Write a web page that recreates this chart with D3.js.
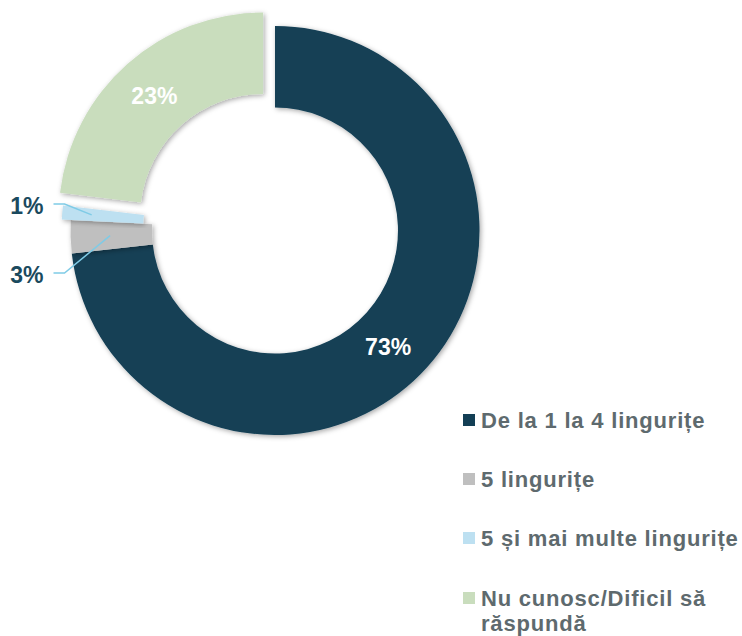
<!DOCTYPE html>
<html><head><meta charset="utf-8">
<script src="https://cdn.jsdelivr.net/npm/d3@7"></script>
<style>
html,body{margin:0;padding:0;background:#fff;}
svg{display:block;font-family:"Liberation Sans",Arial,sans-serif;}
</style></head>
<body>
<svg id="c" width="742" height="636"></svg>
<script>
const categories = ["De la 1 la 4 lingurițe", "5 lingurițe", "5 și mai multe lingurițe", "Nu cunosc/Dificil să răspundă"];
const values = [73.2, 2.6, 1.1, 23.1];
const colors = ["#133F55", "#BFBFBF", "#BDE0F1", "#C9DDBD"];
const explode = [0, 0, 9, 18];
const legendLines = [["De la 1 la 4 lingurițe"], ["5 lingurițe"], ["5 și mai multe lingurițe"], ["Nu cunosc/Dificil să", "răspundă"]];

const svg = d3.select("#c");
const cx = 275, cy = 230.5, rO = 204.5, rI = 123;

const defs = svg.append("defs");
const f = defs.append("filter").attr("id","sh").attr("x","-20%").attr("y","-20%").attr("width","140%").attr("height","140%");
f.append("feDropShadow").attr("dx",1.5).attr("dy",1.5).attr("stdDeviation",2.5).attr("flood-color","#000").attr("flood-opacity",0.35);

const pie = d3.pie().sort(null).value(d => d);
const arcs = pie(values);
const arc = d3.arc().innerRadius(rI).outerRadius(rO);
const g = svg.append("g").attr("transform", `translate(${cx},${cy})`);

function off(d, i) {
  const a = (d.startAngle + d.endAngle) / 2;
  return [Math.sin(a) * explode[i], -Math.cos(a) * explode[i]];
}

g.selectAll("path.s").data(arcs).join("path")
  .attr("class","s")
  .attr("d", arc)
  .attr("fill", (d,i) => colors[i])
  .attr("filter","url(#sh)")
  .attr("transform", (d,i) => { const o = off(d,i); return `translate(${o[0]},${o[1]})`; });

const fmt = v => Math.round(v) + "%";

// inside labels for big slices
arcs.forEach((d, i) => {
  if (values[i] < 10) return;
  const c = arc.centroid(d), o = off(d, i);
  const adj = i === 0 ? [-9, 7] : [0, 1];
  g.append("text")
    .attr("x", c[0] + o[0] + adj[0]).attr("y", c[1] + o[1] + adj[1])
    .attr("text-anchor","middle").attr("dominant-baseline","central")
    .attr("font-size", 23).attr("font-weight","bold").attr("fill","#fff")
    .text(fmt(values[i]));
});

// outside labels with leader lines for small slices
const outLab = {1: {y: 42.5, r: 165}, 2: {y: -26.5, r: 175}};
arcs.forEach((d, i) => {
  if (values[i] >= 10) return;
  const a = (d.startAngle + d.endAngle) / 2, o = off(d, i);
  const L = outLab[i];
  const px = Math.sin(a) * L.r + o[0], py = -Math.cos(a) * L.r + o[1];
  const ex = -rO - 6, lx = -rO - 17;
  g.append("polyline")
    .attr("points", [[px, py], [ex, L.y], [lx, L.y]].map(p => p.join(",")).join(" "))
    .attr("fill","none").attr("stroke","#7FCBE6").attr("stroke-width",1.5);
  g.append("text")
    .attr("x", lx - 10).attr("y", L.y + 2)
    .attr("text-anchor","end").attr("dominant-baseline","central")
    .attr("font-size", 23).attr("font-weight","bold").attr("fill","#1B4A5E")
    .text(fmt(values[i]));
});

// legend
const leg = svg.append("g").attr("transform","translate(463,0)");
const rowY = [420, 479, 538, 598];
categories.forEach((c, i) => {
  leg.append("rect").attr("x",0).attr("y",rowY[i]-6).attr("width",12).attr("height",12).attr("fill",colors[i]);
  const t = leg.append("text").attr("x",18).attr("y",rowY[i]).attr("dominant-baseline","central")
    .attr("font-size",22).attr("font-weight","bold").attr("letter-spacing",0.8).attr("fill","#5E6A6E");
  legendLines[i].forEach((ln, k) => {
    t.append("tspan").attr("x",18).attr("dy", k === 0 ? 0 : 25).text(ln);
  });
});
</script>
</body></html>
